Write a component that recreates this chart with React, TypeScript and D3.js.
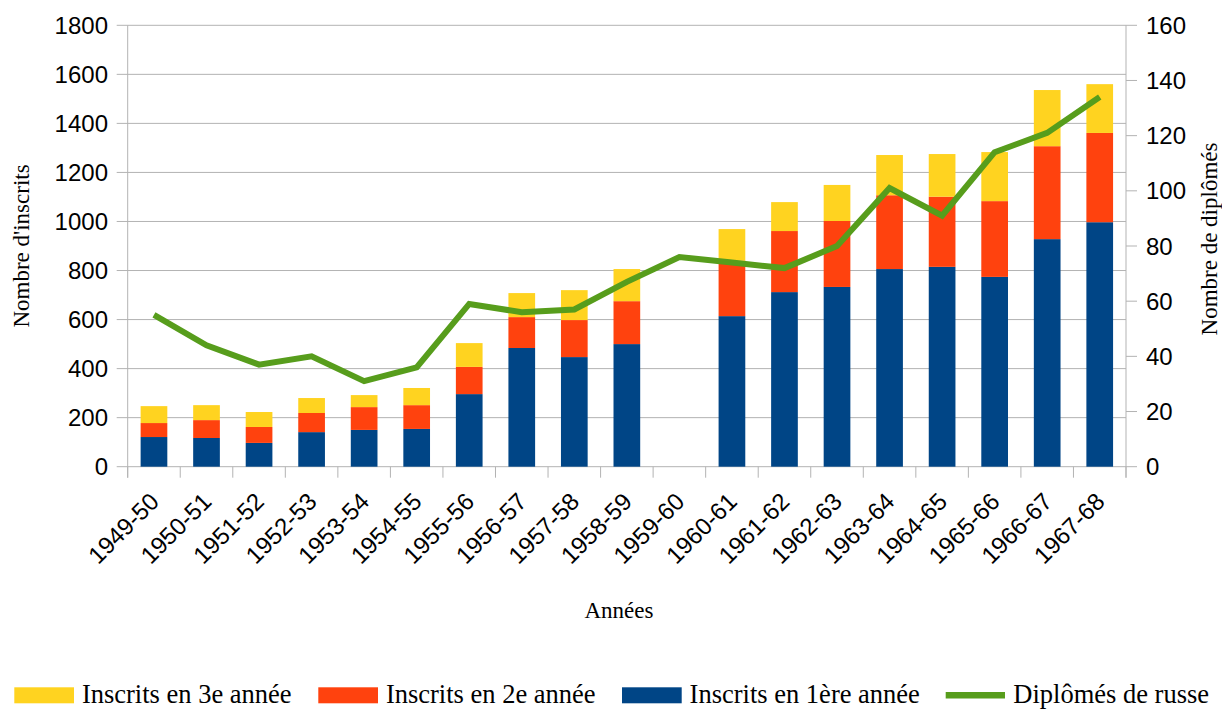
import React from "react";
import * as d3 from "d3";

const categories = [
  "1949-50", "1950-51", "1951-52", "1952-53", "1953-54", "1954-55", "1955-56",
  "1956-57", "1957-58", "1958-59", "1959-60", "1960-61", "1961-62", "1962-63",
  "1963-64", "1964-65", "1965-66", "1966-67", "1967-68",
];
const inscrits1 = [121, 117, 97, 141, 150, 154, 296, 484, 447, 500, 0, 614, 712, 733, 806, 815, 774, 928, 997];
const inscrits2 = [57, 73, 65, 78, 93, 97, 111, 126, 151, 175, 0, 226, 249, 269, 301, 286, 309, 379, 364];
const inscrits3 = [69, 61, 61, 61, 49, 70, 97, 98, 122, 131, 0, 129, 118, 147, 164, 174, 200, 229, 199];
const diplomes = [55, 44, 37, 40, 31, 36, 59, 56, 57, 67, 76, 74, 72, 80, 101, 91, 114, 121, 134];
const leftTicks = [0, 200, 400, 600, 800, 1000, 1200, 1400, 1600, 1800];
const rightTicks = [0, 20, 40, 60, 80, 100, 120, 140, 160];

const seriesNames = ["Inscrits en 1ère année", "Inscrits en 2e année", "Inscrits en 3e année"];
const seriesColors = ["#004586", "#ff420e", "#ffd320"];
const lineColor = "#579d1c";
const lineName = "Diplômés de russe";

const W = 1222, H = 709;
const L = 127.7, R = 1126, T = 25.3, B = 466.7;
const SANS = "'Liberation Sans', Arial, sans-serif";
const SERIF = "'Liberation Serif', 'Times New Roman', serif";
const GRID = "#b3b3b3";

export default function App() {
  const x = d3.scaleBand<string>().domain(categories).range([L, R]).padding(0);
  const bw = x.bandwidth() * 0.508;
  const yL = d3.scaleLinear().domain([0, 1800]).range([B, T]);
  const yR = d3.scaleLinear().domain([0, 160]).range([B, T]);

  const rows = categories.map((c, i) => ({ c, s0: inscrits1[i], s1: inscrits2[i], s2: inscrits3[i] }));
  const stack = d3.stack<any>().keys(["s0", "s1", "s2"])(rows);

  const line = d3
    .line<number>()
    .x((_, i) => (x(categories[i]) as number) + x.bandwidth() / 2)
    .y((d) => yR(d));

  const boundaries = d3.range(categories.length + 1).map((i) => L + i * x.step());

  const legend = [
    { type: "rect", color: seriesColors[2], label: seriesNames[2], sx: 14.3 },
    { type: "rect", color: seriesColors[1], label: seriesNames[1], sx: 318.3 },
    { type: "rect", color: seriesColors[0], label: seriesNames[0], sx: 622 },
    { type: "line", color: lineColor, label: lineName, sx: 945.7 },
  ];

  return (
    <svg width={W} height={H} style={{ position: "absolute", left: 0, top: 0, background: "#fff" }}>
      <rect x={0} y={0} width={W} height={H} fill="#fff" />
      {/* gridlines */}
      {leftTicks.map((t) => (
        <line key={"g" + t} x1={L - 11} x2={R} y1={yL(t)} y2={yL(t)} stroke={GRID} strokeWidth={1} />
      ))}
      {rightTicks.map((t) => (
        <line key={"rt" + t} x1={R} x2={R + 11} y1={yR(t)} y2={yR(t)} stroke={GRID} strokeWidth={1} />
      ))}
      {boundaries.map((bx, i) => (
        <line key={"bt" + i} x1={bx} x2={bx} y1={B} y2={B + 11} stroke={GRID} strokeWidth={1} />
      ))}
      <line x1={L} x2={L} y1={T} y2={B + 11} stroke={GRID} strokeWidth={1} />
      <line x1={R} x2={R} y1={T} y2={B + 11} stroke={GRID} strokeWidth={1} />

      {/* bars */}
      {stack.map((s, si) => (
        <g key={"s" + si} fill={seriesColors[si]}>
          {s.map((d, i) =>
            d[1] - d[0] > 0 ? (
              <rect
                key={i}
                x={(x(categories[i]) as number) + (x.bandwidth() - bw) / 2}
                width={bw}
                y={yL(d[1])}
                height={yL(d[0]) - yL(d[1])}
              />
            ) : null
          )}
        </g>
      ))}
      <path d={line(diplomes) || ""} fill="none" stroke={lineColor} strokeWidth={6} strokeLinejoin="miter" />

      {/* left ticks */}
      {leftTicks.map((t) => (
        <text key={"lt" + t} x={108} y={yL(t)} dy="0.36em" textAnchor="end" fontFamily={SANS} fontSize={24} fill="#000">
          {t}
        </text>
      ))}
      {rightTicks.map((t) => (
        <text key={"rl" + t} x={1146} y={yR(t)} dy="0.36em" textAnchor="start" fontFamily={SANS} fontSize={24} fill="#000">
          {t}
        </text>
      ))}
      {categories.map((c) => (
        <text
          key={"xl" + c}
          transform={`translate(${(x(c) as number) + x.bandwidth() / 2 + 6.5},503) rotate(-45)`}
          textAnchor="end"
          fontFamily={SANS}
          fontSize={24}
          fill="#000"
        >
          {c}
        </text>
      ))}

      {/* axis titles */}
      <text transform={`translate(29,${(T + B) / 2}) rotate(-90)`} textAnchor="middle" fontFamily={SERIF} fontSize={23}>
        Nombre d'inscrits
      </text>
      <text transform={`translate(1217,239) rotate(-90)`} textAnchor="middle" fontFamily={SERIF} fontSize={23}>
        Nombre de diplômés
      </text>
      <text x={619} y={618} textAnchor="middle" fontFamily={SERIF} fontSize={23}>
        Années
      </text>

      {/* legend */}
      {legend.map((l) => (
        <g key={l.label}>
          {l.type === "rect" ? (
            <rect x={l.sx} y={687.3} width={59.7} height={16} fill={l.color} />
          ) : (
            <line x1={l.sx} x2={l.sx + 59.3} y1={695.3} y2={695.3} stroke={l.color} strokeWidth={6.5} />
          )}
          <text x={l.sx + 67.6} y={703.3} fontFamily={SERIF} fontSize={26.5} fill="#000">
            {l.label}
          </text>
        </g>
      ))}
    </svg>
  );
}
